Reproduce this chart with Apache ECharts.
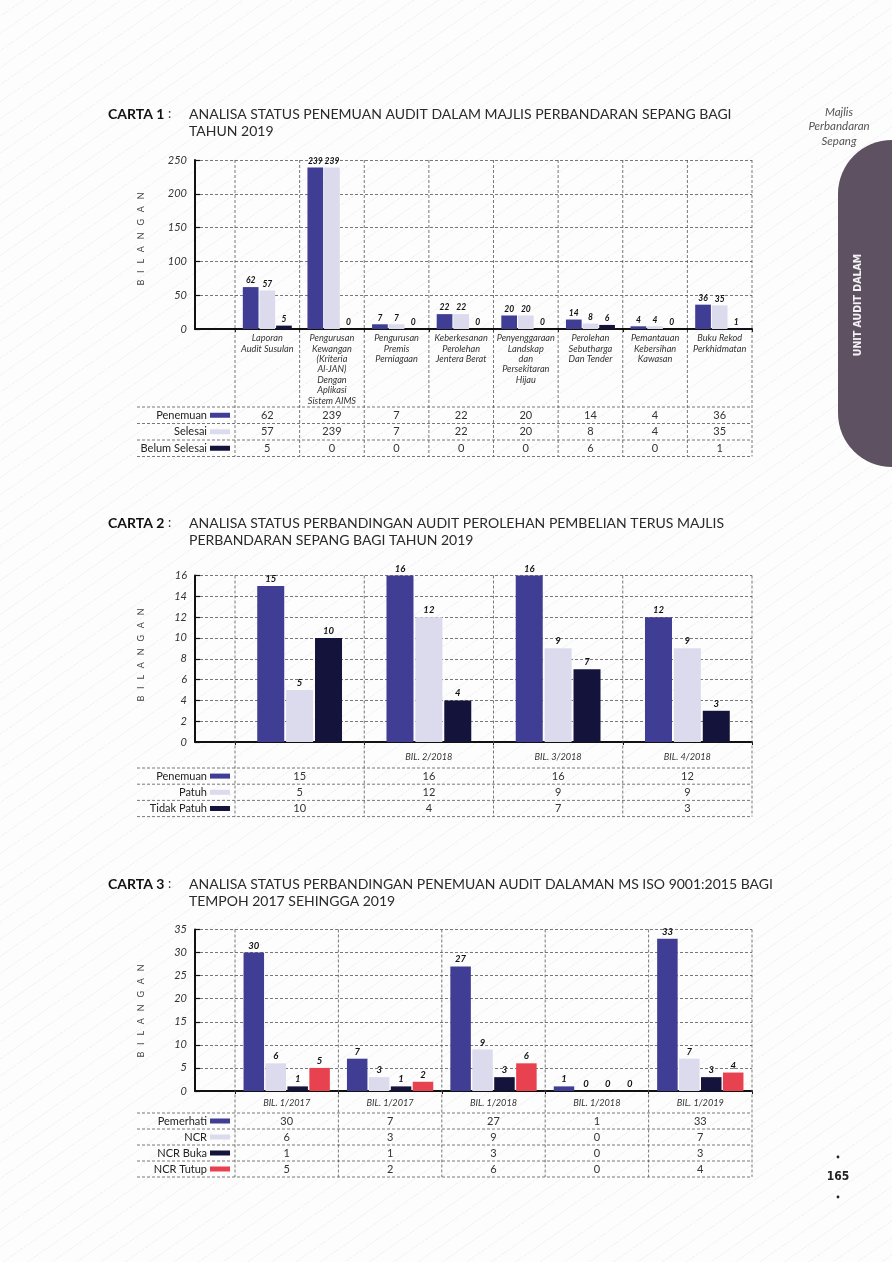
<!DOCTYPE html>
<html><head><meta charset="utf-8">
<script src="https://cdn.jsdelivr.net/npm/echarts@6/dist/echarts.min.js"></script>
<style>
html,body{margin:0;padding:0;}
body{width:892px;height:1262px;background:#fdfdfd repeating-linear-gradient(145deg,#fdfdfd 0px,#fdfdfd 13px,#f5f5f5 13px,#f5f5f5 14px);}
#c{width:892px;height:1262px;}
</style></head><body><div id="c"></div>
<script>
// ---------- DATA ----------
const c1Title = ['ANALISA STATUS PENEMUAN AUDIT DALAM MAJLIS PERBANDARAN SEPANG BAGI', 'TAHUN 2019'];
const c1Categories = ['Laporan\nAudit Susulan', 'Pengurusan\nKewangan\n(Kriteria\nAl-JAN)\nDengan\nAplikasi\nSistem AIMS', 'Pengurusan\nPremis\nPerniagaan', 'Keberkesanan\nPerolehan\nJentera Berat', 'Penyenggaraan\nLandskap\ndan\nPersekitaran\nHijau', 'Perolehan\nSebutharga\nDan Tender', 'Pemantauan\nKebersihan\nKawasan', 'Buku Rekod\nPerkhidmatan'];
const c1Names = ['Penemuan', 'Selesai', 'Belum Selesai'];
const c1Penemuan = [62, 239, 7, 22, 20, 14, 4, 36];
const c1Selesai = [57, 239, 7, 22, 20, 8, 4, 35];
const c1BelumSelesai = [5, 0, 0, 0, 0, 6, 0, 1];
const c1YMax = 250, c1YStep = 50;

const c2Title = ['ANALISA STATUS PERBANDINGAN AUDIT PEROLEHAN PEMBELIAN TERUS MAJLIS', 'PERBANDARAN SEPANG BAGI TAHUN 2019'];
const c2Categories = ['', 'BIL. 2/2018', 'BIL. 3/2018', 'BIL. 4/2018'];
const c2Names = ['Penemuan', 'Patuh', 'Tidak Patuh'];
const c2Penemuan = [15, 16, 16, 12];
const c2Patuh = [5, 12, 9, 9];
const c2TidakPatuh = [10, 4, 7, 3];
const c2YMax = 16, c2YStep = 2;

const c3Title = ['ANALISA STATUS PERBANDINGAN PENEMUAN AUDIT DALAMAN MS ISO 9001:2015 BAGI', 'TEMPOH 2017 SEHINGGA 2019'];
const c3Categories = ['BIL. 1/2017', 'BIL. 1/2017', 'BIL. 1/2018', 'BIL. 1/2018', 'BIL. 1/2019'];
const c3Names = ['Pemerhati', 'NCR', 'NCR Buka', 'NCR Tutup'];
const c3Pemerhati = [30, 7, 27, 1, 33];
const c3NCR = [6, 3, 9, 0, 7];
const c3NCRBuka = [1, 1, 3, 0, 3];
const c3NCRTutup = [5, 2, 6, 0, 4];
const c3YMax = 35, c3YStep = 5;

const sideText = ['Majlis', 'Perbandaran', 'Sepang'];
const tabText = 'UNIT AUDIT DALAM';
const pageNo = '165';
const yAxisName = 'BILANGAN';

// ---------- STYLE / LAYOUT ----------
const FONT = 'Lato, "Open Sans", sans-serif';
const CFONT = '"DejaVu Sans Condensed", "DejaVu Sans", sans-serif';
const BLUE = '#3f3d94', LIGHT = '#dcdbee', DARK = '#14133b', RED = '#e8414f';
const L0 = 195, L1 = 235, R = 752, TL = 137;

const charts = [
  { no: 'CARTA 1', title: c1Title, titleY: 114, top: 160, height: 169, max: c1YMax, step: c1YStep,
    cats: c1Categories, names: c1Names, data: [c1Penemuan, c1Selesai, c1BelumSelesai], colors: [BLUE, LIGHT, DARK],
    barWidth: 15.7, barGap: '6%', labelMargin: 4, labelLH: 10.4, tableTop: 407, rowH: 16.5, bilY: 239, valSize: 8.5 },
  { no: 'CARTA 2', title: c2Title, titleY: 523, top: 575.5, height: 166.5, max: c2YMax, step: c2YStep,
    cats: c2Categories, names: c2Names, data: [c2Penemuan, c2Patuh, c2TidakPatuh], colors: [BLUE, LIGHT, DARK],
    barWidth: 27, barGap: '7%', labelMargin: 10, labelLH: 10, tableTop: 768, rowH: 16.2, bilY: 655, valSize: 9.5 },
  { no: 'CARTA 3', title: c3Title, titleY: 884, top: 929.5, height: 161.5, max: c3YMax, step: c3YStep,
    cats: c3Categories, names: c3Names, data: [c3Pemerhati, c3NCR, c3NCRBuka, c3NCRTutup], colors: [BLUE, LIGHT, DARK, RED],
    barWidth: 20.5, barGap: '7%', labelMargin: 7, labelLH: 10, tableTop: 1113, rowH: 16, bilY: 1011, valSize: 9.5 }
];

const option = { animation: false, grid: [], xAxis: [], yAxis: [], series: [], graphic: [] };
const G = option.graphic;
const DASH = { stroke: '#555', lineWidth: 0.8, lineDash: [3, 2] };
function line(x1, y1, x2, y2, st) {
  G.push({ type: 'line', silent: true, z: 50, shape: { x1, y1, x2, y2 }, style: Object.assign({}, DASH, st || {}) });
}
function text(t, x, y, o) {
  o = o || {};
  G.push({ type: 'text', silent: true, z: 60, x, y, rotation: o.rotation || 0,
    style: { text: t, fill: o.color || '#333', font: o.font || ('11px ' + FONT),
      align: o.align || 'left', verticalAlign: o.va || 'middle',
      textAlign: o.align || 'left', textVerticalAlign: o.va || 'middle' } });
}
const splitLine = { show: true, lineStyle: { color: '#555', type: [3, 2], width: 0.8 } };

charts.forEach((c, k) => {
  const gi = 2 * k;
  option.grid.push({ left: L0, top: c.top, width: L1 - L0, height: c.height });
  option.grid.push({ left: L1, top: c.top, width: R - L1, height: c.height });
  option.xAxis.push({ gridIndex: gi, type: 'category', data: [''],
    axisLine: { lineStyle: { color: '#111', width: 2 } }, axisTick: { show: false }, axisLabel: { show: false } });
  option.yAxis.push({ gridIndex: gi, type: 'value', min: 0, max: c.max, interval: c.step,
    axisLine: { show: true, lineStyle: { color: '#111', width: 2 } },
    axisTick: { show: true, inside: true, length: 5, lineStyle: { color: '#111', width: 1.2 } },
    axisLabel: { fontStyle: 'italic', fontSize: 11, color: '#333', margin: 8, fontFamily: FONT },
    splitLine });
  option.xAxis.push({ gridIndex: gi + 1, type: 'category', data: c.cats,
    axisLine: { lineStyle: { color: '#111', width: 2 } },
    axisTick: { show: true, length: 3, lineStyle: { color: '#111' } },
    axisLabel: { interval: 0, fontStyle: 'italic', fontSize: 9.2, lineHeight: c.labelLH, color: '#333',
      margin: c.labelMargin, fontFamily: FONT } });
  option.yAxis.push({ gridIndex: gi + 1, type: 'value', min: 0, max: c.max, interval: c.step,
    axisLine: { show: false }, axisTick: { show: false }, axisLabel: { show: false }, splitLine });
  c.data.forEach((d, si) => option.series.push({
    type: 'bar', name: c.names[si], xAxisIndex: gi + 1, yAxisIndex: gi + 1, data: d,
    barWidth: c.barWidth, barGap: c.barGap, itemStyle: { color: c.colors[si] },
    label: { show: true, position: 'top', distance: 2, fontSize: c.valSize, fontWeight: 'bold', fontStyle: 'italic',
      color: '#111', fontFamily: FONT }
  }));

  // titles
  text(c.no, 108, c.titleY, { font: 'bold 14px ' + FONT, color: '#111' });
  text(':', 168, c.titleY, { font: '13px ' + FONT, color: '#333' });
  c.title.forEach((t, i) => text(t, 189, c.titleY + i * 17, { font: '14px ' + FONT, color: '#2a2a2a' }));
  // axis name
  text(yAxisName.split('').join(' \u2002'), 141, c.bilY, { font: '9px ' + FONT, color: '#444', align: 'center', rotation: Math.PI / 2 });

  // table
  const n = c.cats.length, cw = (R - L1) / n, rows = c.data.length;
  const tableBottom = c.tableTop + rows * c.rowH;
  for (let i = 0; i <= n; i++) line(L1 + i * cw, c.top, L1 + i * cw, tableBottom);
  for (let r = 0; r <= rows; r++) line(TL, c.tableTop + r * c.rowH, R, c.tableTop + r * c.rowH);
  for (let r = 0; r < rows; r++) {
    const yc = c.tableTop + (r + 0.5) * c.rowH;
    text(c.names[r], 207, yc, { font: '11px ' + FONT, color: '#222', align: 'right' });
    G.push({ type: 'rect', silent: true, z: 60, shape: { x: 210, y: yc - 2.5, width: 20, height: 5 }, style: { fill: c.colors[r] } });
    c.data[r].forEach((v, j) => text(String(v), L1 + (j + 0.5) * cw, yc, { font: '11px ' + FONT, color: '#333', align: 'center' }));
  }
});

// side labels
sideText.forEach((t, i) => text(t, 839, 112 + i * 14.5, { font: 'italic 11.5px ' + FONT, color: '#555', align: 'center' }));
G.push({ type: 'rect', silent: true, z: 40, shape: { x: 838, y: 140, width: 80, height: 327, r: [54, 0, 0, 54] }, style: { fill: '#5e5262' } });
text(tabText, 858, 305, { font: 'bold 10.5px ' + CFONT, color: '#f4f2f5', align: 'center', rotation: Math.PI / 2 });
// page number
text(pageNo, 838, 1177, { font: 'bold 12px ' + CFONT, color: '#222', align: 'center' });
G.push({ type: 'circle', silent: true, z: 60, shape: { cx: 838, cy: 1157, r: 1.4 }, style: { fill: '#222' } });
G.push({ type: 'circle', silent: true, z: 60, shape: { cx: 838, cy: 1197, r: 1.4 }, style: { fill: '#222' } });

const chart = echarts.init(document.getElementById('c'), null, { renderer: 'canvas' });
chart.setOption(option);
</script>
</body></html>
